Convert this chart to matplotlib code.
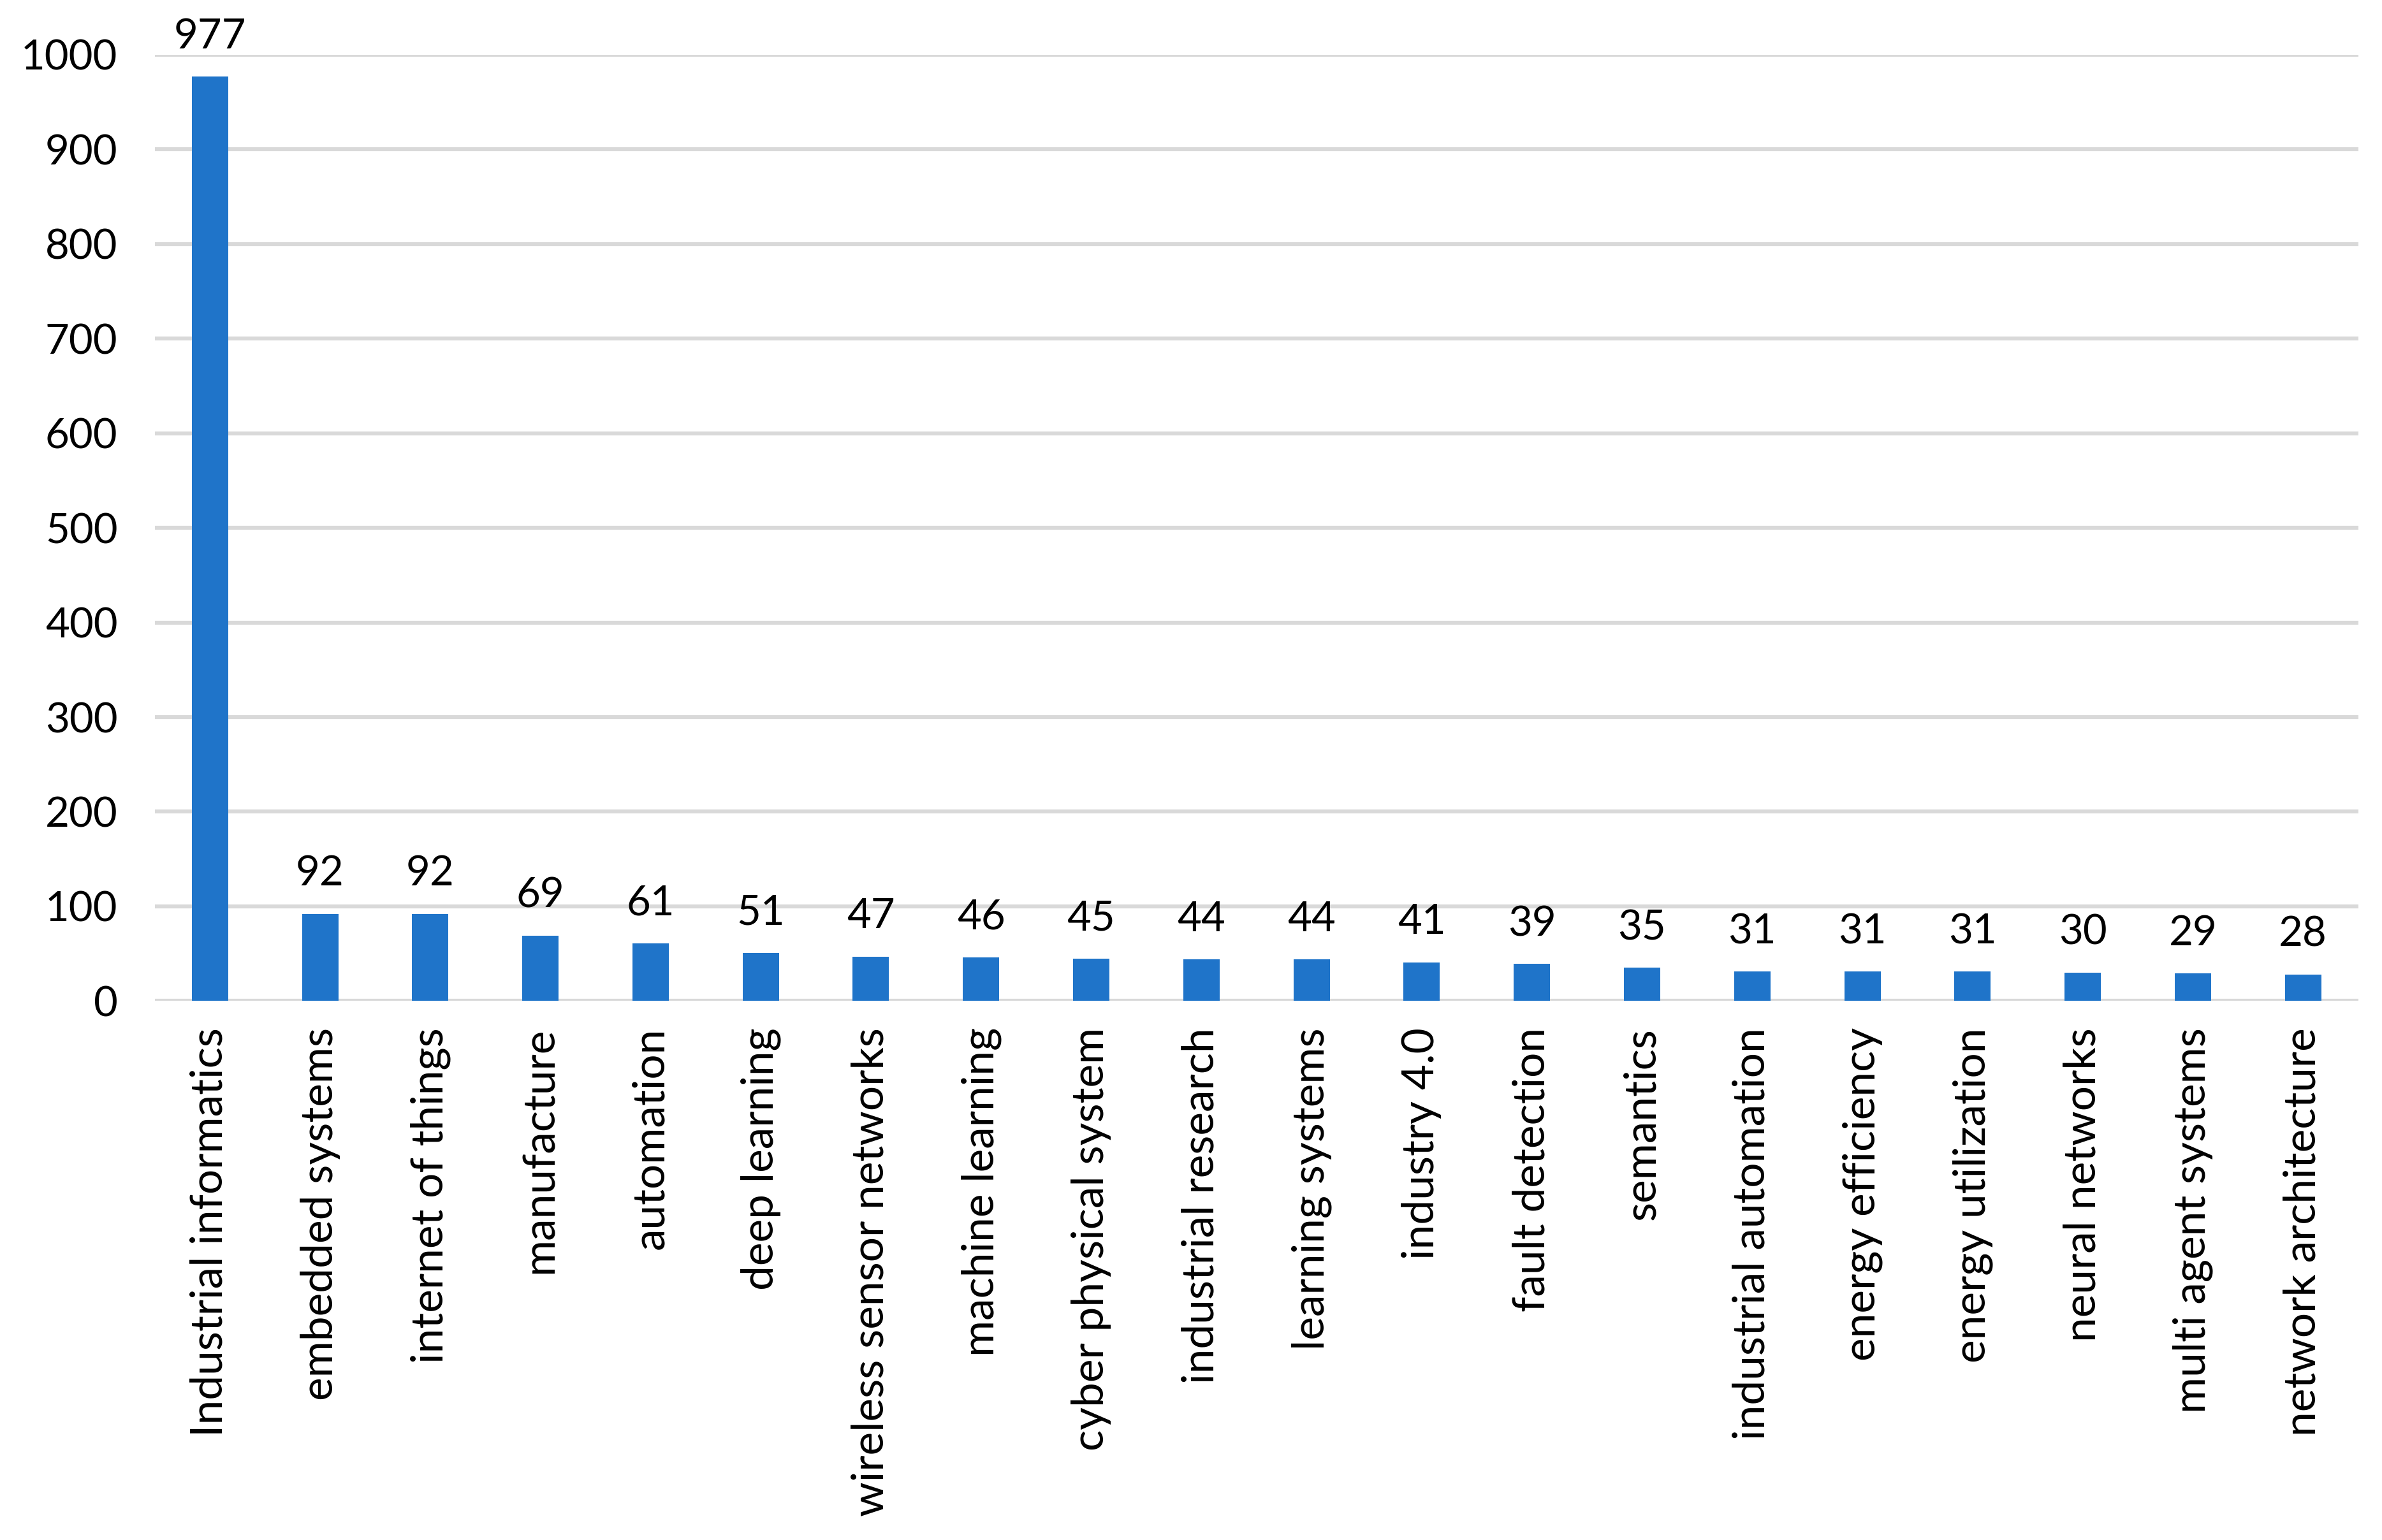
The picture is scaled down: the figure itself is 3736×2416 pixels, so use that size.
import matplotlib
matplotlib.use("Agg")
import matplotlib.pyplot as plt
import numpy as np

# keyword frequencies
keywords = [
    "Industrial informatics", "embedded systems", "internet of things",
    "manufacture", "automation", "deep learning", "wireless sensor networks",
    "machine learning", "cyber physical system", "industrial research",
    "learning systems", "industry 4.0", "fault detection", "semantics",
    "industrial automation", "energy efficiency", "energy utilization",
    "neural networks", "multi agent systems", "network architecture",
]
counts = [977, 92, 92, 69, 61, 51, 47, 46, 45, 44, 44, 41, 39, 35, 31, 31, 31, 30, 29, 28]
y_ticks = [0, 100, 200, 300, 400, 500, 600, 700, 800, 900, 1000]

plt.rcParams["font.family"] = ["Lato", "DejaVu Sans"]

fig = plt.figure(figsize=(37.36, 24.16), dpi=100)
ax = fig.add_axes([0.065, 0.35, 0.925, 0.6145])

x = np.arange(len(keywords))
bars = ax.bar(x, counts, width=0.33, color="#1f74c9", zorder=3)

# value labels above bars
for xi, c in zip(x, counts):
    ax.annotate(str(c), (xi, c), xytext=(0, 24), textcoords="offset points",
                ha="center", va="bottom", fontsize=47, color="black")

ax.set_xlim(-0.5, len(keywords) - 0.5)
ax.set_ylim(0, 1000)
ax.set_yticks(y_ticks)
ax.set_xticks(x)
ax.set_xticklabels(keywords, rotation=90, fontsize=50)
ax.tick_params(axis="y", labelsize=47, length=0, pad=42)
ax.tick_params(axis="x", length=0, pad=30)

ax.yaxis.grid(True, color="#d9d9d9", linewidth=4.5, zorder=0)
ax.set_axisbelow(True)
for s in ax.spines.values():
    s.set_visible(False)

fig.savefig("out.png", dpi=100)
